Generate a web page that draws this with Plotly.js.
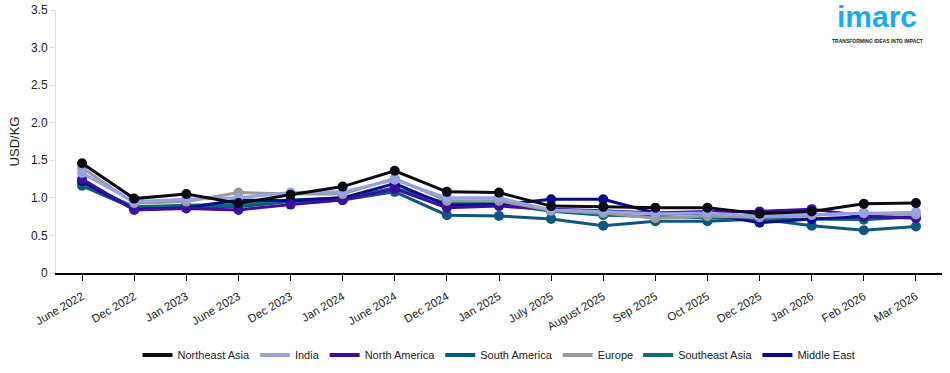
<!DOCTYPE html>
<html>
<head>
<meta charset="utf-8">
<script src="https://cdn.plot.ly/plotly-3.0.1.min.js"></script>
<style>html,body{margin:0;padding:0;background:#fff;}#chart{width:950px;height:373px;}</style>
</head>
<body>
<div id="chart"></div>
<script>
const categories = ["June 2022","Dec 2022","Jan 2023","June 2023","Dec 2023","Jan 2024","June 2024","Dec 2024","Jan 2025","July 2025","August 2025","Sep 2025","Oct 2025","Dec 2025","Jan 2026","Feb 2026","Mar 2026"];
const northeastAsia = [1.46,0.99,1.05,0.93,1.04,1.15,1.36,1.08,1.07,0.89,0.88,0.87,0.87,0.79,0.82,0.92,0.93];
const india         = [1.33,0.95,0.98,1.00,1.07,1.08,1.24,1.00,1.00,0.84,0.82,0.79,0.80,0.76,0.78,0.80,0.81];
const northAmerica  = [1.25,0.84,0.86,0.84,0.91,0.97,1.12,0.87,0.89,0.85,0.83,0.80,0.82,0.82,0.85,0.76,0.73];
const southAmerica  = [1.16,0.86,0.88,0.88,0.95,0.97,1.08,0.77,0.76,0.72,0.63,0.69,0.69,0.72,0.63,0.57,0.62];
const europe        = [1.40,0.93,0.95,1.07,1.05,1.05,1.26,0.96,0.96,0.83,0.80,0.73,0.76,0.74,0.77,0.80,0.78];
const southeastAsia = [1.20,0.88,0.90,0.91,0.97,1.00,1.13,0.93,0.92,0.82,0.77,0.75,0.74,0.72,0.72,0.71,0.75];
const middleEast    = [1.22,0.85,0.87,0.97,0.96,1.00,1.19,0.90,0.91,0.98,0.98,0.80,0.79,0.67,0.72,0.75,0.74];
const yTickVals = [0,0.5,1,1.5,2,2.5,3,3.5];
const yTickText = ["0","0.5","1.0","1.5","2.0","2.5","3.0","3.5"];

const series = [
  {name:"Northeast Asia", y:northeastAsia, color:"#0b0b16", z:7},
  {name:"India", y:india, color:"#97a2e3", z:6},
  {name:"North America", y:northAmerica, color:"#3d0e9e", z:4},
  {name:"South America", y:southAmerica, color:"#0d5583", z:1},
  {name:"Europe", y:europe, color:"#9a9a9a", z:5},
  {name:"Southeast Asia", y:southeastAsia, color:"#0e6b7e", z:2},
  {name:"Middle East", y:middleEast, color:"#0a0a8c", z:3}
];

const traces = [];
series.slice().sort((a,b)=>a.z-b.z).forEach(s=>{
  traces.push({x:categories, y:s.y, type:"scatter", mode:"lines+markers", name:s.name,
    line:{color:s.color, width:3}, marker:{color:s.color, size:10}, showlegend:false});
});
series.forEach(s=>{
  traces.push({x:[categories[0]], y:[null], type:"scatter", mode:"lines", name:s.name,
    line:{color:s.color, width:4}, showlegend:true});
});

const layout = {
  width:950, height:373,
  margin:{l:56, r:8, t:10, b:100},
  paper_bgcolor:"#fff", plot_bgcolor:"#fff",
  font:{family:"Liberation Sans, Arial, sans-serif", size:12, color:"#222"},
  xaxis:{type:"category", categoryorder:"array", categoryarray:categories, automargin:false,
    range:[-0.5, categories.length-0.5], showgrid:false, zeroline:false,
    showline:true, linecolor:"#000", linewidth:1.5,
    ticks:"outside", ticklen:6, tickcolor:"#000", tickangle:-30, ticklabelstandoff:5,
    tickfont:{size:11.5, color:"#222"}},
  yaxis:{range:[0,3.5], tickvals:yTickVals, ticktext:yTickText, showgrid:false, zeroline:false, automargin:false,
    showline:true, linecolor:"#ddd", linewidth:1, ticks:"outside", ticklen:5, tickcolor:"#ddd",
    tickfont:{size:12, color:"#222"},
    title:{text:"USD/KG", font:{size:13, color:"#222"}, standoff:8}},
  legend:{orientation:"h", x:0.5, xanchor:"center", xref:"paper", yref:"container", y:0.087, yanchor:"top",
    font:{size:11, color:"#222"}, itemwidth:30, tracegroupgap:0},
  annotations:[
    {xref:"paper", yref:"paper", x:0.927, y:0.905, text:"<b>imarc</b>", showarrow:false,
      font:{family:"Liberation Sans, Arial, sans-serif", size:30, color:"#1ea9ef"}, xanchor:"center", yanchor:"bottom"},
    {xref:"paper", yref:"paper", x:0.927, y:0.9, text:"<b>TRANSFORMING IDEAS INTO IMPACT</b>", showarrow:false,
      font:{family:"Liberation Sans, Arial, sans-serif", size:5, color:"#222"}, xanchor:"center", yanchor:"top"}
  ],
  showlegend:true
};

Plotly.newPlot("chart", traces, layout, {displayModeBar:false, staticPlot:true});
</script>
</body>
</html>
